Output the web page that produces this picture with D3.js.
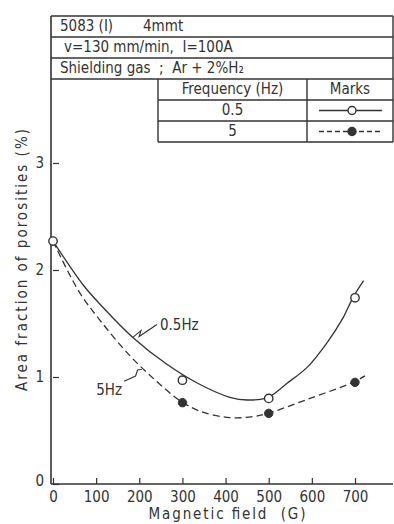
<!DOCTYPE html>
<html>
<head>
<meta charset="utf-8">
<script src="https://cdn.jsdelivr.net/npm/d3@7"></script>
<style>
  body { margin: 0; background: #fff; }
  text { font-family: "Liberation Sans Narrow", "DejaVu Sans Condensed", sans-serif; fill: #333; white-space: pre; }
</style>
</head>
<body>
<div id="container"></div>
<script>
// measured points (marks)
let fieldG = [0, 300, 500, 700]
let hz05Marks = [2.27, 0.97, 0.80, 1.74]
let hz5Marks = [2.27, 0.76, 0.66, 0.95]

// fitted curves
let hz05CurveX = [0, 70, 109, 185, 264, 341, 410, 450, 498, 542, 589, 635, 672, 695, 720]
let hz05CurveY = [2.27, 1.86, 1.68, 1.37, 1.12, 0.93, 0.81, 0.785, 0.81, 0.94, 1.09, 1.32, 1.55, 1.74, 1.90]
let hz5CurveX = [0, 60, 109, 178, 240, 294, 341, 410, 464, 498, 589, 695, 723]
let hz5CurveY = [2.27, 1.80, 1.53, 1.20, 0.96, 0.78, 0.68, 0.62, 0.63, 0.66, 0.79, 0.95, 1.01]

let xTicks = [0, 100, 200, 300, 400, 500, 600, 700]
let yTicks = [0, 1, 2, 3]

let infoRows = ["5083 (I)", "v=130 mm/min,  I=100A", "Shielding gas  ;  Ar + 2%H\u2082"]
let freqLabels = ["0.5", "5"]

let w = 394
let h = 524

let svg = d3.select("#container")
  .append("svg")
  .attr("width", w)
  .attr("height", h)

let x = d3.scaleLinear().domain([0, 700]).range([53, 355])
let y = d3.scaleLinear().domain([0, 3]).range([484, 163])

let ink = "#333"

// axes (ticks point inward)
let xAxis = svg.append("g")
  .attr("transform", "translate(0," + y(0) + ")")
  .call(d3.axisBottom(x).tickValues(xTicks).tickFormat(d3.format("d")).tickSizeInner(-6).tickSizeOuter(0).tickPadding(7))
xAxis.select(".domain").remove()
xAxis.selectAll("line").attr("stroke", ink).attr("stroke-width", 1.2)
xAxis.selectAll("text").style("font-size", "15px").attr("fill", ink).attr("dy", "0.75em")

let yAxis = svg.append("g")
  .attr("transform", "translate(" + x(0) + ",0)")
  .call(d3.axisLeft(y).tickValues(yTicks).tickFormat(d3.format("d")).tickSizeInner(-6).tickSizeOuter(0).tickPadding(9))
yAxis.select(".domain").remove()
yAxis.selectAll("line").attr("stroke", ink).attr("stroke-width", 1.2)
yAxis.selectAll("text").style("font-size", "15px").attr("fill", ink)
yAxis.selectAll(".tick").filter(d => d === 0).select("text").attr("dy", "0.1em")

// axis lines, extended past the tick range
let topY = 16
let rightX = 393
svg.append("line")
  .attr("x1", x(0) - 2).attr("x2", rightX)
  .attr("y1", y(0)).attr("y2", y(0))
  .attr("stroke", ink).attr("stroke-width", 1.6)
svg.append("line")
  .attr("x1", x(0) - 2).attr("x2", x(0) - 2)
  .attr("y1", y(0)).attr("y2", topY)
  .attr("stroke", ink).attr("stroke-width", 1.6)

// axis titles
svg.append("text")
  .attr("x", 227).attr("y", 519)
  .attr("text-anchor", "middle")
  .attr("textLength", 157).attr("lengthAdjust", "spacing")
  .style("font-size", "15px")
  .text("Magnetic field  (G)")

svg.append("text")
  .attr("transform", "translate(27,260) rotate(-90)")
  .attr("text-anchor", "middle")
  .attr("textLength", 262).attr("lengthAdjust", "spacing")
  .style("font-size", "15px")
  .text("Area fraction of porosities (%)")

// info table
let rowH = 21
let tableL = x(0) - 2
let subL = 158
let marksL = 307
let tbl = svg.append("g").attr("stroke", ink).attr("stroke-width", 1.4).attr("fill", "none")
tbl.append("line").attr("x1", tableL).attr("x2", rightX).attr("y1", topY).attr("y2", topY)
tbl.append("line").attr("x1", rightX).attr("x2", rightX).attr("y1", topY).attr("y2", topY + rowH * 6)
for (let i = 1; i <= 3; i++) {
  tbl.append("line").attr("x1", tableL).attr("x2", rightX).attr("y1", topY + rowH * i).attr("y2", topY + rowH * i)
}
for (let i = 4; i <= 6; i++) {
  tbl.append("line").attr("x1", subL).attr("x2", rightX).attr("y1", topY + rowH * i).attr("y2", topY + rowH * i)
}
tbl.append("line").attr("x1", subL).attr("x2", subL).attr("y1", topY + rowH * 3).attr("y2", topY + rowH * 6)
tbl.append("line").attr("x1", marksL).attr("x2", marksL).attr("y1", topY + rowH * 3).attr("y2", topY + rowH * 6)

svg.selectAll(".info")
  .data(infoRows)
  .enter()
  .append("text")
  .attr("class", "info")
  .attr("x", (d, i) => i === 1 ? 64 : 60)
  .attr("y", (d, i) => topY + rowH * i + 15)
  .style("font-size", "15px")
  .text(d => d)
svg.append("text")
  .attr("x", 143).attr("y", topY + 15)
  .style("font-size", "15px")
  .text("4mmt")

svg.append("text")
  .attr("x", (subL + marksL) / 2).attr("y", topY + rowH * 3 + 15)
  .attr("text-anchor", "middle").style("font-size", "15px")
  .text("Frequency (Hz)")
svg.append("text")
  .attr("x", (marksL + rightX) / 2).attr("y", topY + rowH * 3 + 15)
  .attr("text-anchor", "middle").style("font-size", "15px")
  .text("Marks")
svg.selectAll(".freq")
  .data(freqLabels)
  .enter()
  .append("text")
  .attr("class", "freq")
  .attr("x", (subL + marksL) / 2)
  .attr("y", (d, i) => topY + rowH * (4 + i) + 15)
  .attr("text-anchor", "middle").style("font-size", "15px")
  .text(d => d)

// legend marks
let mcx = (marksL + rightX) / 2 + 2
freqLabels.forEach(function(f, i) {
  let my = topY + rowH * (4 + i) + rowH / 2
  svg.append("line")
    .attr("x1", mcx - 33).attr("x2", mcx + 30)
    .attr("y1", my).attr("y2", my)
    .attr("stroke", ink).attr("stroke-width", 1.3)
    .attr("stroke-dasharray", i === 0 ? null : "5,3")
  svg.append("circle")
    .attr("cx", mcx).attr("cy", my).attr("r", 4)
    .attr("fill", i === 0 ? "#fff" : ink)
    .attr("stroke", ink).attr("stroke-width", 1.4)
})

// curves
let line = d3.line()
  .x(d => x(d[0]))
  .y(d => y(d[1]))
  .curve(d3.curveCatmullRom.alpha(0.5))

svg.append("path")
  .datum(d3.zip(hz05CurveX, hz05CurveY))
  .attr("d", line)
  .attr("fill", "none").attr("stroke", ink).attr("stroke-width", 1.3)

svg.append("path")
  .datum(d3.zip(hz5CurveX, hz5CurveY))
  .attr("d", line)
  .attr("fill", "none").attr("stroke", ink).attr("stroke-width", 1.3)
  .attr("stroke-dasharray", "7,4")

// marks
svg.selectAll(".m05")
  .data(d3.zip(fieldG, hz05Marks))
  .enter()
  .append("circle")
  .attr("class", "m05")
  .attr("cx", d => x(d[0])).attr("cy", d => y(d[1])).attr("r", 4.2)
  .attr("fill", "#fff").attr("stroke", ink).attr("stroke-width", 1.4)

svg.selectAll(".m5")
  .data(d3.zip(fieldG, hz5Marks).slice(1))
  .enter()
  .append("circle")
  .attr("class", "m5")
  .attr("cx", d => x(d[0])).attr("cy", d => y(d[1])).attr("r", 4.2)
  .attr("fill", ink).attr("stroke", ink).attr("stroke-width", 1)

// curve labels with leader lines
let curveLabels = [
  { text: "0.5Hz", from: [185, 1.37], to: [241, 1.49], tx: 248, ty: 1.49, anchor: "start" },
  { text: "5Hz", from: [206, 1.07], to: [165, 0.96], tx: 160, ty: 0.88, anchor: "end" }
]
curveLabels.forEach(function(c) {
  let x0 = x(c.from[0]), y0 = y(c.from[1]), x1 = x(c.to[0]), y1 = y(c.to[1])
  let mx = x0 + (x1 - x0) * 0.3, my = y0 + (y1 - y0) * 0.3
  svg.append("path")
    .attr("d", "M" + x0 + "," + y0 + "L" + (mx + 1) + "," + (my - 3) + "L" + (mx - 1) + "," + (my + 3) + "L" + x1 + "," + y1)
    .attr("fill", "none").attr("stroke", ink).attr("stroke-width", 1.1)
  svg.append("text")
    .attr("x", x(c.tx)).attr("y", y(c.ty))
    .attr("text-anchor", c.anchor)
    .attr("dy", "0.35em")
    .style("font-size", "15px")
    .text(c.text)
})
</script>
</body>
</html>
